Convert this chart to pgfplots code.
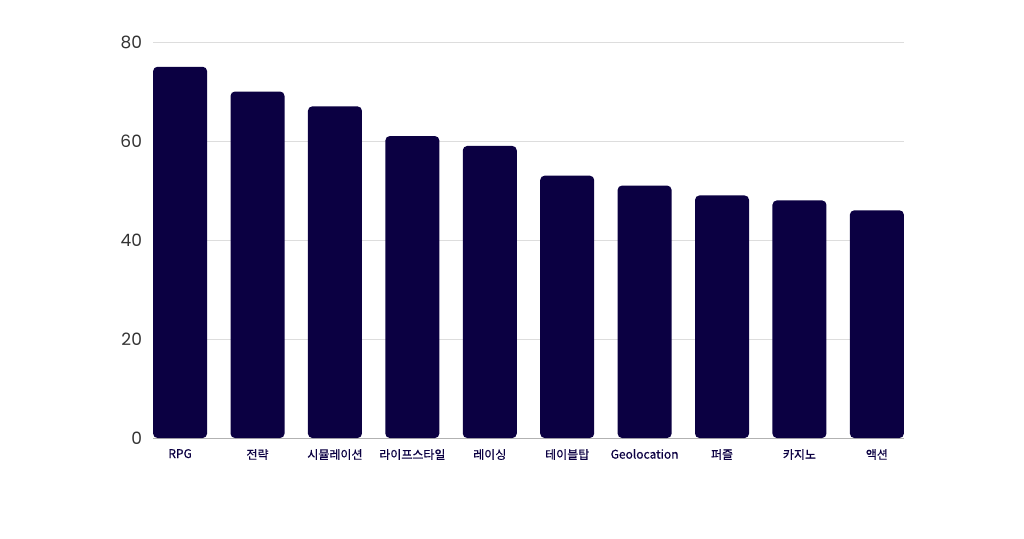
\documentclass[border=0pt]{standalone}
\usepackage{pgfplots}
\pgfplotsset{compat=1.18}
\usepackage{fontspec}
\setmainfont{Poppins}
\newfontfamily\kr[FakeBold=0.6]{Noto Sans CJK KR}
\definecolor{barc}{HTML}{0B0042}
\definecolor{tickc}{HTML}{333333}
\definecolor{gridc}{HTML}{DDDDDD}
\begin{document}
\begin{tikzpicture}[x=1pt,y=1pt]
\useasboundingbox (0,0) rectangle (512,269);
\begin{axis}[
  at={(76.5pt,50pt)}, anchor=south west, scale only axis,
  width=375.5pt, height=198pt,
  xmin=-0.35, xmax=9.35, ymin=0, ymax=80,
  ytick={0,20,40,60,80},
  xtick=data,
  xticklabels={RPG,전략,시뮬레이션,라이프스타일,레이싱,테이블탑,Geolocation,퍼즐,카지노,액션},
  axis lines*=left,
  y axis line style={draw=none},
  x axis line style={draw=black!30},
  major tick length=0pt,
  ymajorgrids, grid style={gridc, line width=0.5pt},
  /pgf/number format/assume math mode=true,
  yticklabel style={font=\fontsize{8.5}{10}\selectfont, text=tickc, xshift=-2pt},
  xticklabel style={font=\kr\fontsize{6}{7}\selectfont, text=barc, yshift=-2pt},
  clip=false,
]
\addplot[ybar, bar width=27pt, fill=barc, draw=none, rounded corners=2.2pt] coordinates {
(0,75) (1,70) (2,67) (3,61) (4,59) (5,53) (6,51) (7,49) (8,48) (9,46)};
\end{axis}
\end{tikzpicture}
\end{document}
